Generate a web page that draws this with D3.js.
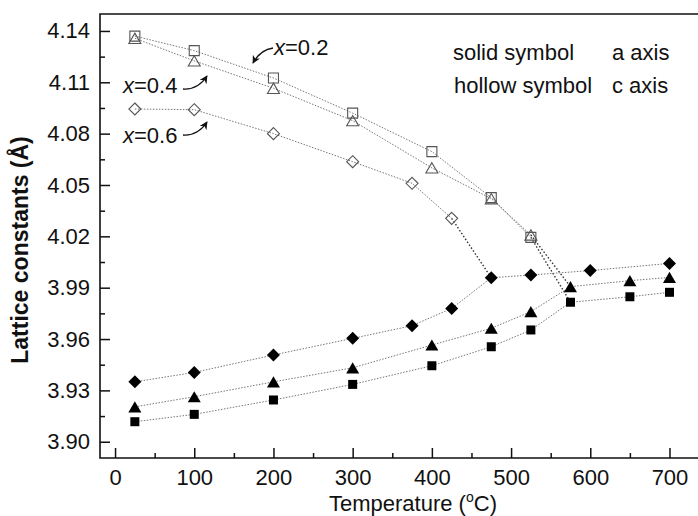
<!DOCTYPE html>
<html>
<head>
<meta charset="utf-8">
<script src="https://cdn.jsdelivr.net/npm/d3@7/dist/d3.min.js"></script>
<style>
  body { margin: 0; background: #fff; }
  text { font-family: "Liberation Sans", Arial, sans-serif; fill: #111; }
</style>
</head>
<body>
<div id="chart"></div>
<script>
// temperatures (°C) and lattice constants (Å)
const tempsC1 = [25, 100, 200, 300, 400, 475, 525];            // x=0.2, x=0.4 c axis
const tempsC2 = [25, 100, 200, 300, 375, 425];                 // x=0.6 c axis
const tempsA1 = [25, 100, 200, 300, 400, 475, 525, 575, 650, 700];
const tempsA2 = [25, 100, 200, 300, 375, 425, 475, 525, 600, 700];

const cX02 = [4.137, 4.1285, 4.1125, 4.092, 4.0695, 4.0426, 4.0194];
const cX04 = [4.1357, 4.1225, 4.1065, 4.0876, 4.060, 4.042, 4.0208];
const cX06 = [4.0944, 4.094, 4.080, 4.0636, 4.051, 4.0305];

const aX02 = [3.9117, 3.916, 3.9244, 3.9335, 3.9444, 3.9555, 3.9653, 3.9815, 3.9847, 3.9873];
const aX04 = [3.9204, 3.9263, 3.935, 3.9432, 3.9565, 3.9663, 3.976, 3.9906, 3.9941, 3.996];
const aX06 = [3.935, 3.9405, 3.9507, 3.9604, 3.9678, 3.9779, 3.9958, 3.9974, 4.000, 4.0042];

// where the c axis curve joins the a axis curve
const joinTemp = [575, 575, 475];

const xTicks = [0, 100, 200, 300, 400, 500, 600, 700];
const yTicks = [3.90, 3.93, 3.96, 3.99, 4.02, 4.05, 4.08, 4.11, 4.14];
const compLabels = ['x=0.2', 'x=0.4', 'x=0.6'];

const width = 698, height = 516;
const svg = d3.select('#chart').append('svg')
  .attr('width', width)
  .attr('height', height);

const xScale = d3.scaleLinear().domain([-19, 736]).range([100, 698]);
const yScale = d3.scaleLinear().domain([3.8905, 4.1499]).range([458, 14]);

// marker shapes
const sq = {draw(ctx, s) { const h = s / 2; ctx.rect(-h, -h, s, s); }};
const dia = {draw(ctx, s) { const h = s / 2; ctx.moveTo(0, -h); ctx.lineTo(h, 0); ctx.lineTo(0, h); ctx.lineTo(-h, 0); ctx.closePath(); }};
const tri = {draw(ctx, s) { const h = s * 0.43; ctx.moveTo(0, -h); ctx.lineTo(s / 2, h); ctx.lineTo(-s / 2, h); ctx.closePath(); }};

const series = [
  {c: cX02, ct: tempsC1, a: aX02, at: tempsA1, shape: sq, solid: 9, hollow: 10},
  {c: cX04, ct: tempsC1, a: aX04, at: tempsA1, shape: tri, solid: 13, hollow: 12},
  {c: cX06, ct: tempsC2, a: aX06, at: tempsA2, shape: dia, solid: 13, hollow: 12}
];

const line = d3.line().x(d => xScale(d[0])).y(d => yScale(d[1]));

const g = svg.append('g');

series.forEach((s, i) => {
  const cPts = s.ct.map((t, j) => [t, s.c[j]]);
  const aPts = s.at.map((t, j) => [t, s.a[j]]);
  const joinPt = aPts.find(p => p[0] === joinTemp[i]);

  g.append('path').datum(cPts)
    .attr('d', line).attr('fill', 'none')
    .attr('stroke', '#777').attr('stroke-width', 1).attr('stroke-dasharray', '1.5,1.5');
  g.append('path').datum([cPts[cPts.length - 1], joinPt])
    .attr('d', line).attr('fill', 'none')
    .attr('stroke', '#333').attr('stroke-width', 1.4).attr('stroke-dasharray', '1.5,2');
  g.append('path').datum(aPts)
    .attr('d', line).attr('fill', 'none')
    .attr('stroke', '#777').attr('stroke-width', 1).attr('stroke-dasharray', '1.5,1.5');

  g.selectAll('.hol' + i).data(cPts).enter().append('path')
    .attr('class', 'hol' + i)
    .attr('transform', d => `translate(${xScale(d[0])},${yScale(d[1])})`)
    .attr('d', d3.symbol().type(s.shape).size(s.hollow))
    .attr('fill', 'none').attr('stroke', '#555').attr('stroke-width', 1.1);

  g.selectAll('.sol' + i).data(aPts).enter().append('path')
    .attr('class', 'sol' + i)
    .attr('transform', d => `translate(${xScale(d[0])},${yScale(d[1])})`)
    .attr('d', d3.symbol().type(s.shape).size(s.solid))
    .attr('fill', '#000');
});

// axes, ticks point inward
const xAxis = d3.axisBottom(xScale).tickValues(xTicks).tickSizeInner(-10).tickSizeOuter(0).tickPadding(11);
const xMinor = d3.axisBottom(xScale).tickValues(xTicks.slice(0, -1).map(v => v + 50)).tickSize(-5).tickFormat('');
const yAxis = d3.axisLeft(yScale).tickValues(yTicks).tickSizeInner(-10).tickSizeOuter(0).tickPadding(10).tickFormat(d3.format('.2f'));
const yMinor = d3.axisLeft(yScale).tickValues(yTicks.slice(0, -1).map(v => v + 0.015)).tickSize(-5).tickFormat('');

[[xAxis, 'x'], [xMinor, 'x'], [yAxis, 'y'], [yMinor, 'y']].forEach(([ax, k]) => {
  const a = svg.append('g')
    .attr('transform', k === 'x' ? `translate(0,${yScale.range()[0]})` : `translate(${xScale.range()[0]},0)`)
    .call(ax);
  a.select('.domain').remove();
  a.selectAll('line').attr('stroke', '#111').attr('stroke-width', 1.5);
  a.selectAll('text').attr('font-size', 22).attr('fill', '#111')
    .style('font-family', '"Liberation Sans", Arial, sans-serif');
});

// frame: left, bottom, top
const [x0, x1] = xScale.range();
const [yb, yt] = yScale.range();
svg.append('path')
  .attr('d', `M${x1},${yt}H${x0}V${yb}H${x1}`)
  .attr('fill', 'none').attr('stroke', '#111').attr('stroke-width', 1.6);

// axis titles
svg.append('text')
  .attr('transform', 'translate(28,250) rotate(-90)')
  .attr('text-anchor', 'middle')
  .attr('font-size', 23).attr('font-weight', 'bold')
  .text('Lattice constants (Å)');

const xt = svg.append('text').attr('x', 329).attr('y', 511).attr('font-size', 22);
xt.append('tspan').text('Temperature (');
xt.append('tspan').attr('font-size', 14).attr('dy', -9).text('o');
xt.append('tspan').attr('dy', 9).text('C)');

// composition labels with arrows
svg.append('defs').append('marker')
  .attr('id', 'ah').attr('viewBox', '0 0 10 10').attr('refX', 9).attr('refY', 5)
  .attr('markerWidth', 8).attr('markerHeight', 8).attr('markerUnits', 'userSpaceOnUse')
  .attr('orient', 'auto')
  .append('path').attr('d', 'M0,0L10,5L0,10L3,5Z').attr('fill', '#111');

const labelPos = [[274, 55], [123, 93], [123, 143]];
const arrows = [
  'M273,48 Q260,50 253,63',
  'M183,89 Q198,90 207,76',
  'M183,135 Q198,136 207,122'
];
compLabels.forEach((lab, i) => {
  const t = svg.append('text').attr('x', labelPos[i][0]).attr('y', labelPos[i][1]).attr('font-size', 22);
  t.append('tspan').attr('font-style', 'italic').text(lab.slice(0, 1));
  t.append('tspan').text(lab.slice(1));
  svg.append('path').attr('d', arrows[i])
    .attr('fill', 'none').attr('stroke', '#111').attr('stroke-width', 1.3)
    .attr('marker-end', 'url(#ah)');
});

// legend note
const notes = [['solid symbol', 'a axis', 453, 60], ['hollow symbol', 'c axis', 454, 93]];
notes.forEach(n => {
  svg.append('text').attr('x', n[2]).attr('y', n[3]).attr('font-size', 22).text(n[0]);
  svg.append('text').attr('x', 612).attr('y', n[3]).attr('font-size', 22).text(n[1]);
});
</script>
</body>
</html>
